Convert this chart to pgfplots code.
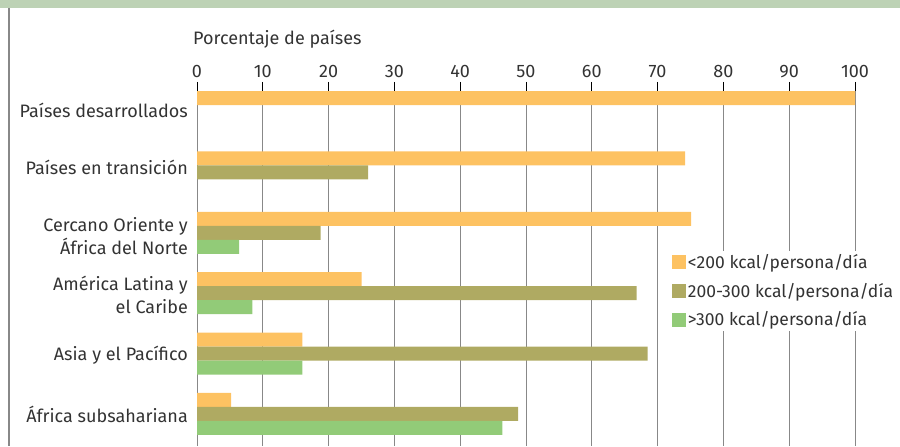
\documentclass[border=0pt]{standalone}
\usepackage{pgfplots}
\pgfplotsset{compat=1.18}
\usepackage{fontspec}
\setmainfont{Fira Sans}
\definecolor{cOr}{HTML}{FDC262}
\definecolor{cOl}{HTML}{AFAA62}
\definecolor{cGr}{HTML}{92CB78}
\definecolor{band}{HTML}{BDD2B5}
\definecolor{txt}{HTML}{333333}
\definecolor{gridc}{HTML}{888888}
\newcommand{\ff}{\fontsize{18bp}{23bp}\selectfont}
\begin{document}
\begin{tikzpicture}[x=1bp,y=1bp]
\path (0,0) rectangle (900,446);
\fill[band] (0,438) rectangle (900,446);
\draw[color=gridc, line width=1.3bp] (9,0) -- (9,438);
\node[anchor=base west, text=txt, font=\ff, inner sep=0pt] at (193,401) {Porcentaje de países};
\begin{axis}[
  at={(197bp,355bp)}, anchor=north west,
  width=658bp, height=355bp, scale only axis,
  xmin=0, xmax=100, ymin=-0.53, ymax=5.348,
  xbar, bar width=14bp,
  axis line style={draw=none},
  xtick={0,10,...,100}, xtick pos=right, xticklabel pos=right,
  tick align=outside, major tick length=9bp,
  xtick style={black, line width=1bp},
  xmajorgrids, grid style={gridc, line width=1bp},
  ytick={0,0.97,1.97,2.95,4.08,5.03},
  yticklabels={África subsahariana, Asia y el Pacífico, América Latina y\\el Caribe, Cercano Oriente y\\África del Norte, Países en transición, Países desarrollados},
  ytick style={draw=none},
  yticklabel style={align=right, text=txt, inner sep=0pt, font=\ff},
  xticklabel style={text=txt, inner sep=0pt, font=\ff, yshift=4bp},
  /pgf/number format/assume math mode=true,
  legend cell align=left,
  legend image code/.code={\fill[#1] (0bp,-7bp) rectangle (14bp,7bp);},
  legend style={at={(0.717,0.551)}, anchor=north west, draw=none, fill=white,
    text=txt, font=\fontsize{17.5bp}{21bp}\selectfont, row sep=9bp, inner xsep=3bp,
    /tikz/every even column/.append style={column sep=2bp}},
]
\addplot[fill=cOr, draw=none, bar shift=14bp] coordinates {(100,5) (74.2,4) (75.1,3) (25,2) (16,1) (5.2,0)};
\addlegendentry{<200 kcal/persona/día}
\addplot[fill=cOl, draw=none, bar shift=0bp] coordinates {(26,4) (18.8,3) (66.8,2) (68.5,1) (48.8,0)};
\addlegendentry{200-300 kcal/persona/día}
\addplot[fill=cGr, draw=none, bar shift=-14bp] coordinates {(6.4,3) (8.4,2) (16,1) (46.4,0)};
\addlegendentry{>300 kcal/persona/día}
\end{axis}
\end{tikzpicture}
\end{document}
